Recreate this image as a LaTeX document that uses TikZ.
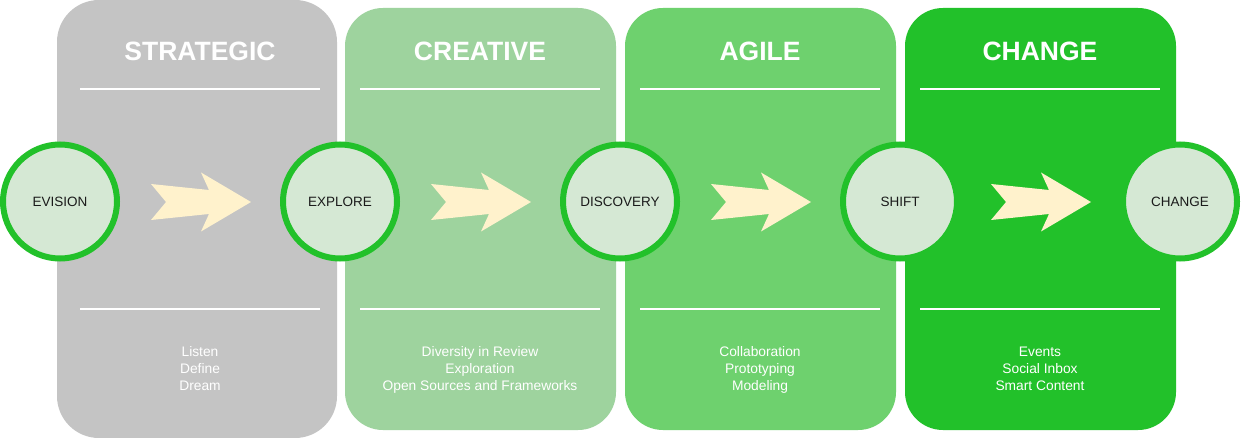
\documentclass[tikz,border=0pt]{standalone}
\usepackage{fontspec}
\setmainfont{Liberation Sans}
\definecolor{panelA}{HTML}{C4C4C4}
\definecolor{panelB}{HTML}{9ED39E}
\definecolor{panelC}{HTML}{6ED16E}
\definecolor{panelD}{HTML}{22C12A}
\definecolor{ringgreen}{HTML}{22C12A}
\definecolor{ringfill}{HTML}{D5E8D4}
\definecolor{arrowcream}{HTML}{FFF2CC}
\definecolor{labelink}{HTML}{1A1A1A}
\tikzset{
  panel/.style={rounded corners=38pt},
  paneltitle/.style={anchor=base, text=white, inner sep=0pt,
    font=\fontsize{26.5}{30}\selectfont\bfseries},
  rule/.style={draw=white, line width=2pt},
  stage/.style={circle, draw=ringgreen, fill=ringfill, line width=6pt,
    minimum size=114pt, inner sep=0pt, text=labelink,
    font=\fontsize{13.5}{16}\selectfont},
  itemlist/.style={anchor=base, align=center, text=white, inner sep=0pt,
    font=\fontsize{13.8}{17}\selectfont},
  flow/.style={fill=arrowcream},
}
\begin{document}
\begin{tikzpicture}[x=1pt, y=-1pt]
\useasboundingbox (0,0) rectangle (1241,438);
\fill[white] (0,0) rectangle (1241,438);

% column panels
\fill[panelA, rounded corners=42pt] (57,0) rectangle (337,438);
\fill[panelB, panel] (345,8) rectangle (616,430);
\fill[panelC, panel] (625,8) rectangle (896,430);
\fill[panelD, panel] (905,8) rectangle (1176,430);

% column titles
\node[paneltitle] (t1) at (200,61) {STRATEGIC};
\node[paneltitle] (t2) at (480,61) {CREATIVE};
\node[paneltitle] (t3) at (760,61) {AGILE};
\node[paneltitle] (t4) at (1040,61) {CHANGE};

% divider rules
\foreach \dx in {0,280,560,840} {
  \draw[rule, xshift=\dx] (80,89) -- (320,89);
  \draw[rule, xshift=\dx] (80,309) -- (320,309);
}

% block arrows between stages
\foreach \dx in {0,280,560,840} {
  \fill[flow, xshift=\dx] (151,184) -- (166,202) -- (151,220) -- (209,214)
    -- (201,231.5) -- (251,202) -- (201,172.5) -- (209,190) -- cycle;
}

% stage circles
\node[stage] (s1) at (60,201.5) {EVISION};
\node[stage] (s2) at (340,201.5) {EXPLORE};
\node[stage] (s3) at (620,201.5) {DISCOVERY};
\node[stage] (s4) at (900,201.5) {SHIFT};
\node[stage] (s5) at (1180,201.5) {CHANGE};

% activity lists (base anchor sits on the last line)
\node[itemlist] (l1) at (200,390) {Listen\\Define\\Dream};
\node[itemlist] (l2) at (480,390) {Diversity in Review\\Exploration\\Open Sources and Frameworks};
\node[itemlist] (l3) at (760,390) {Collaboration\\Prototyping\\Modeling};
\node[itemlist] (l4) at (1040,390) {Events\\Social Inbox\\Smart Content};
\end{tikzpicture}
\end{document}
